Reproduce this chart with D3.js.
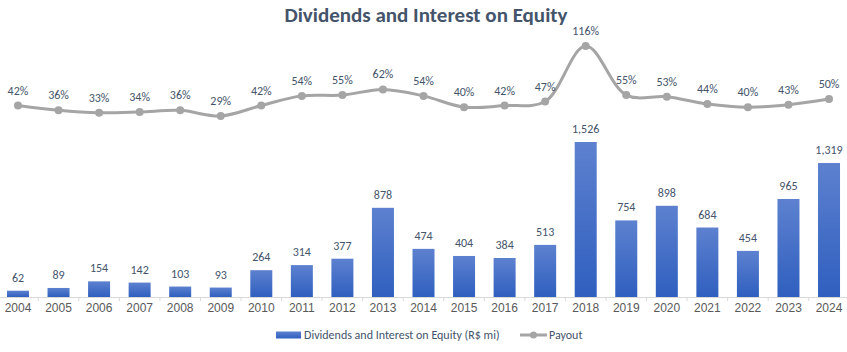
<!DOCTYPE html>
<html>
<head>
<meta charset="utf-8">
<script src="https://cdn.jsdelivr.net/npm/d3@7"></script>
<style>
  body { margin: 0; background: #fff; }
  svg { display: block; font-family: Calibri, Carlito, "Open Sans", "Liberation Sans", sans-serif; }
</style>
</head>
<body>
<svg id="chart" width="847" height="352"></svg>
<script>
const years = ['2004','2005','2006','2007','2008','2009','2010','2011','2012','2013','2014','2015','2016','2017','2018','2019','2020','2021','2022','2023','2024']
const dividends = [62, 89, 154, 142, 103, 93, 264, 314, 377, 878, 474, 404, 384, 513, 1526, 754, 898, 684, 454, 965, 1319]
const payout = [42, 36, 33, 34, 36, 29, 42, 54, 55, 62, 54, 40, 42, 47, 116, 55, 53, 44, 40, 43, 50]
const seriesNames = ['Dividends and Interest on Equity (R$ mi)', 'Payout']

const svg = d3.select('#chart')
const textColor = '#44546a'

// gradient for bars
const defs = svg.append('defs')
const grad = defs.append('linearGradient')
    .attr('id', 'barGrad')
    .attr('x1', 0).attr('y1', 0).attr('x2', 0).attr('y2', 1)
grad.append('stop').attr('offset', '0%').attr('stop-color', '#5d81cf')
grad.append('stop').attr('offset', '100%').attr('stop-color', '#2f5fbf')

const x = d3.scaleBand()
    .domain(years)
    .range([-2.3, 849.3])

const barW = 22
const yBar = d3.scaleLinear().domain([0, 1526]).range([297, 142])
const yLine = d3.scaleLinear().domain([29, 116]).range([116, 46])

// title
svg.append('text')
    .attr('x', 426)
    .attr('y', 22)
    .attr('text-anchor', 'middle')
    .attr('font-size', '21px')
    .attr('font-weight', 'bold')
    .attr('fill', textColor)
    .text('Dividends and Interest on Equity')

// bars
svg.append('g')
    .selectAll('rect')
    .data(years)
    .join('rect')
    .attr('x', (d) => x(d) + x.bandwidth() / 2 - barW / 2)
    .attr('y', (d, i) => yBar(dividends[i]))
    .attr('width', barW)
    .attr('height', (d, i) => yBar(0) - yBar(dividends[i]))
    .attr('fill', 'url(#barGrad)')

svg.append('g')
    .selectAll('text')
    .data(years)
    .join('text')
    .attr('x', (d) => x(d) + x.bandwidth() / 2)
    .attr('y', (d, i) => yBar(dividends[i]) - 9)
    .attr('text-anchor', 'middle')
    .attr('font-size', '12px')
    .attr('fill', textColor)
    .text((d, i) => d3.format(',')(dividends[i]))

// x axis
const axis = svg.append('g')
    .attr('transform', `translate(0,${yBar(0)})`)
    .call(d3.axisBottom(x).tickSize(0).tickPadding(6))
axis.select('.domain').attr('stroke', '#d9d9d9').attr('stroke-width', 1)
axis.selectAll('text')
    .attr('font-size', '12px')
    .attr('fill', '#595959')
    .attr('font-family', 'inherit')
axis.selectAll('.sep')
    .data(years.slice(1))
    .join('line')
    .attr('class', 'sep')
    .attr('x1', (d) => x(d))
    .attr('x2', (d) => x(d))
    .attr('y1', 0)
    .attr('y2', 4)
    .attr('stroke', '#d9d9d9')

// payout line
const line = d3.line()
    .x((d, i) => x(years[i]) + x.bandwidth() / 2)
    .y((d) => yLine(d))
    .curve(d3.curveCatmullRom)

svg.append('path')
    .datum(payout)
    .attr('d', line)
    .attr('fill', 'none')
    .attr('stroke', '#a5a5a5')
    .attr('stroke-width', 3)
    .attr('stroke-linecap', 'round')

svg.append('g')
    .selectAll('circle')
    .data(payout)
    .join('circle')
    .attr('cx', (d, i) => x(years[i]) + x.bandwidth() / 2)
    .attr('cy', (d) => yLine(d))
    .attr('r', 4)
    .attr('fill', '#a5a5a5')

svg.append('g')
    .selectAll('text')
    .data(payout)
    .join('text')
    .attr('x', (d, i) => x(years[i]) + x.bandwidth() / 2)
    .attr('y', (d) => yLine(d) - 11)
    .attr('text-anchor', 'middle')
    .attr('font-size', '12px')
    .attr('fill', textColor)
    .text((d) => d + '%')

// legend
const legend = svg.append('g').attr('transform', 'translate(0,335)')
legend.append('rect')
    .attr('x', 276).attr('y', -3.5)
    .attr('width', 25).attr('height', 7)
    .attr('fill', 'url(#barGrad)')
legend.append('text')
    .attr('x', 304).attr('y', 4)
    .attr('font-size', '12px')
    .attr('fill', textColor)
    .text(seriesNames[0])
legend.append('line')
    .attr('x1', 520).attr('x2', 547)
    .attr('y1', 0).attr('y2', 0)
    .attr('stroke', '#a5a5a5')
    .attr('stroke-width', 3)
legend.append('circle')
    .attr('cx', 533.5).attr('cy', 0).attr('r', 3.5)
    .attr('fill', '#a5a5a5')
legend.append('text')
    .attr('x', 549).attr('y', 4)
    .attr('font-size', '12px')
    .attr('fill', textColor)
    .text(seriesNames[1])
</script>
</body>
</html>
